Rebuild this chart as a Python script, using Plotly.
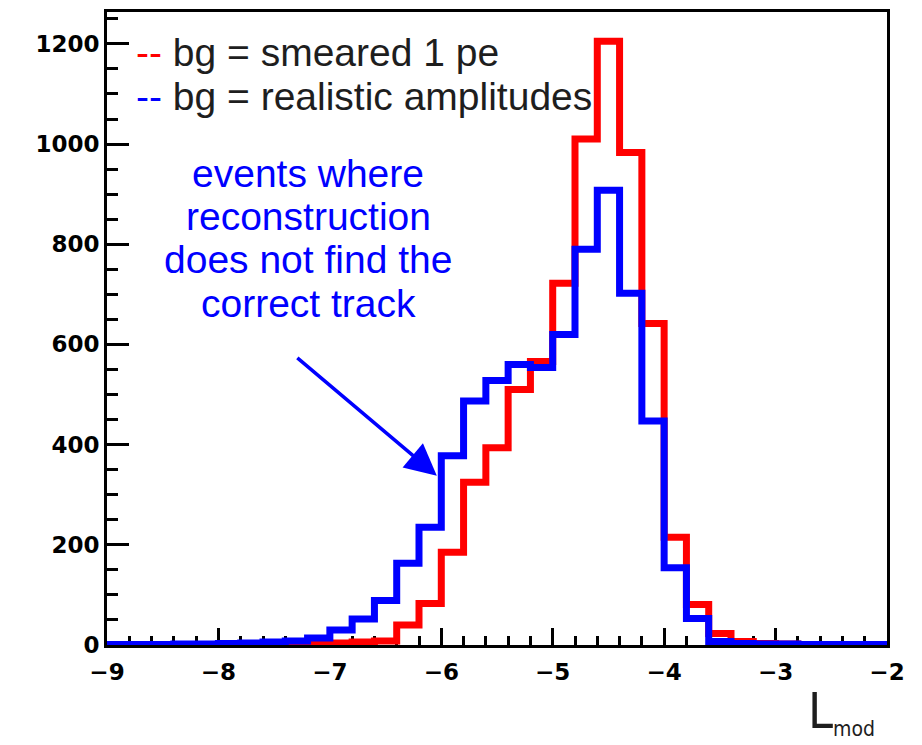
import plotly.graph_objects as go

# Left edges of the 0.2-wide bins of L_mod
bin_lo = [-9.0, -8.8, -8.6, -8.4, -8.2, -8.0, -7.8, -7.6, -7.4, -7.2,
          -7.0, -6.8, -6.6, -6.4, -6.2, -6.0, -5.8, -5.6, -5.4, -5.2,
          -5.0, -4.8, -4.6, -4.4, -4.2, -4.0, -3.8, -3.6, -3.4, -3.2,
          -3.0, -2.8, -2.6, -2.4, -2.2]
bin_width = 0.2

# Entries per bin
smeared_1pe = [0, 0, 0, 0, 0, 1, 1, 1, 1, 2,
               4, 6, 8, 40, 83, 185, 325, 394, 510, 566,
               722, 1010, 1205, 983, 642, 215, 81, 23, 7, 3,
               2, 1, 1, 1, 1]
realistic_amp = [1, 1, 1, 2, 2, 3, 4, 6, 8, 14,
                 30, 52, 89, 163, 235, 378, 487, 528, 560, 554,
                 620, 790, 908, 702, 447, 154, 53, 7, 3, 2,
                 2, 1, 1, 1, 1]

series_names = ["bg = smeared 1 pe", "bg = realistic amplitudes"]
series_colors = ["#ff0000", "#0000ff"]

x_ticks = [-9, -8, -7, -6, -5, -4, -3, -2]
y_ticks = [0, 200, 400, 600, 800, 1000, 1200]

note_lines = ["events where", "reconstruction", "does not find the", "correct track"]

# plot-area geometry (pixels)
W, H = 922, 745
L, R, T, B = 107, 35, 9, 100
X0, X1 = L, W - R
Y0, Y1 = T, H - B


def xp(px):
    return (px - X0) / (X1 - X0)


def yp(py):
    return (Y1 - py) / (Y1 - Y0)


def step_xy(vals):
    xs = list(bin_lo) + [bin_lo[-1] + bin_width]
    ys = list(vals) + [vals[-1]]
    return xs, ys


fig = go.Figure()
for vals, name, col in zip([smeared_1pe, realistic_amp], series_names, series_colors):
    xs, ys = step_xy(vals)
    fig.add_trace(go.Scatter(
        x=xs, y=ys, mode="lines", line_shape="hv", name=name,
        line=dict(color=col, width=7), showlegend=False, cliponaxis=False,
    ))

tick_font = dict(family="DejaVu Sans, Liberation Sans, Arial", size=23, color="black", weight="bold")

fig.update_xaxes(
    range=[-9, -2], tickvals=x_ticks, ticks="inside", ticklen=17, tickwidth=3,
    tickcolor="black", showline=True, linewidth=3, linecolor="black", mirror=True,
    showgrid=False, zeroline=False, tickfont=tick_font, layer="below traces",
    ticklabelstandoff=4,
    minor=dict(ticks="inside", ticklen=9, tickwidth=2.5, tickcolor="black",
               dtick=0.2, tick0=-9, showgrid=False),
)
fig.update_yaxes(
    range=[0, 1263.6], tickvals=y_ticks, ticks="inside", ticklen=22, tickwidth=3,
    tickcolor="black", showline=True, linewidth=3, linecolor="black", mirror=True,
    showgrid=False, zeroline=False, tickfont=tick_font, layer="below traces",
    minor=dict(ticks="inside", ticklen=11, tickwidth=2.5, tickcolor="black",
               dtick=50, tick0=0, showgrid=False),
)

text_family = "Liberation Sans, Arial, Helvetica, sans-serif"
annotations = []

# legend entries drawn as coloured dashes followed by text
for i, (name, col) in enumerate(zip(series_names, series_colors)):
    annotations.append(dict(
        xref="paper", yref="paper", x=xp(134), y=yp(50 + 44 * i),
        xanchor="left", yanchor="middle", showarrow=False,
        text=f"<span style='color:{col}'>--</span> {name}",
        font=dict(family=text_family, size=39, color="#1e1e1e"),
    ))

# explanatory note
for i, line in enumerate(note_lines):
    annotations.append(dict(
        xref="paper", yref="paper", x=xp(308), y=yp(171 + 43.5 * i),
        xanchor="center", yanchor="middle", showarrow=False, text=line,
        font=dict(family=text_family, size=39, color="#0000ff"),
    ))

# arrow pointing at the low-side shoulder of the blue histogram
annotations.append(dict(
    xref="x", yref="y", x=-6.04, y=338, text="", showarrow=True,
    arrowhead=2, arrowsize=1.8, arrowwidth=3.5, arrowcolor="#0000ff",
    ax=-141, ay=-119, standoff=0,
))

# axis title L_mod
narrow = "Liberation Sans Narrow, DejaVu Sans Condensed, Arial Narrow, Liberation Sans, sans-serif"
annotations.append(dict(
    xref="paper", yref="paper", x=xp(806), y=yp(711), xanchor="left", yanchor="middle",
    showarrow=False, text="L", font=dict(family=narrow, size=50, color="#1e1e1e"),
))
annotations.append(dict(
    xref="paper", yref="paper", x=xp(831), y=yp(729), xanchor="left", yanchor="middle",
    showarrow=False, text="mod", font=dict(family=narrow, size=21, color="#1e1e1e"),
))

fig.update_layout(
    width=W, height=H, margin=dict(l=L, r=R, t=T, b=B),
    paper_bgcolor="white", plot_bgcolor="white",
    annotations=annotations, showlegend=False,
)

fig.write_html("out.html")
